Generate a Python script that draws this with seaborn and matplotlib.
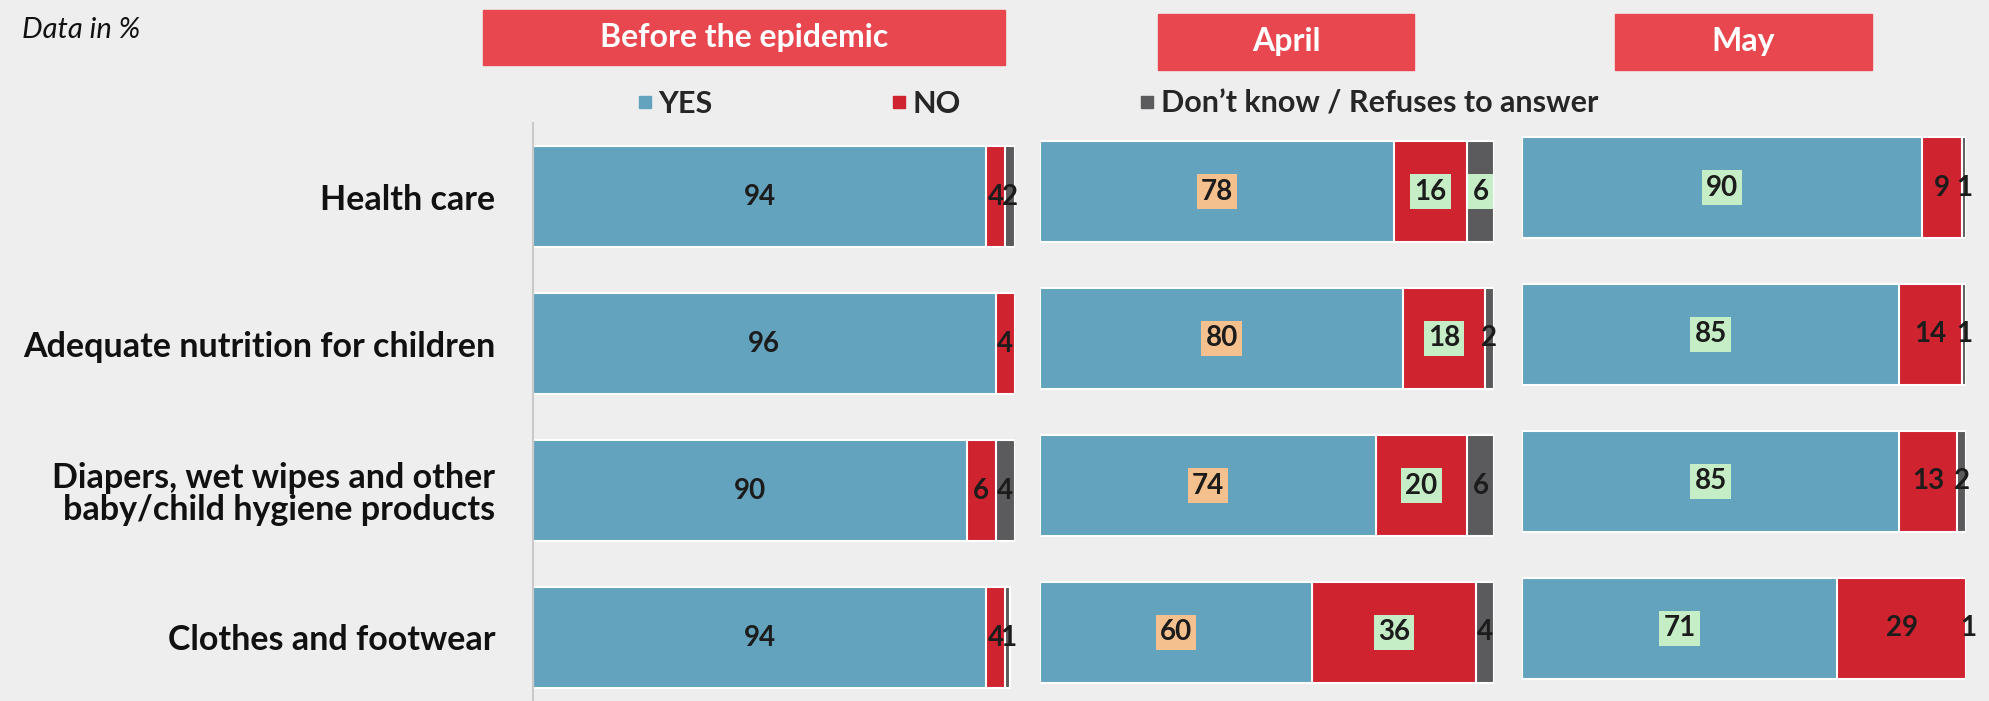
import pandas as pd
import matplotlib.pyplot as plt
import seaborn as sns
from matplotlib.lines import Line2D
from matplotlib.patches import Rectangle

# Data (in %)
categories = ["Health care",
              "Adequate nutrition for children",
              "Diapers, wet wipes and other\nbaby/child hygiene products",
              "Clothes and footwear"]
periods = ["Before the epidemic", "April", "May"]

yes_before = [94, 96, 90, 94]
no_before = [4, 4, 6, 4]
dk_before = [2, 0, 4, 1]

yes_april = [78, 80, 74, 60]
no_april = [16, 18, 20, 36]
dk_april = [6, 2, 6, 4]

yes_may = [90, 85, 85, 71]
no_may = [9, 14, 13, 29]
dk_may = [1, 1, 2, 1]

legend_labels = ["YES", "NO", "Don’t know / Refuses to answer"]

sns.set_theme(style="white")
plt.rcParams['font.family'] = ['Lato', 'DejaVu Sans']

BG = '#eeeeee'
C_YES = '#63a3bd'
C_NO = '#cf232f'
C_DK = '#5b5b5d'
C_HEAD = '#e9474f'
ORANGE = '#f4c08e'
GREEN = '#c6eec6'

W, H = 1989, 701
fig = plt.figure(figsize=(W / 100, H / 100), dpi=100, facecolor=BG)


def px_rect(x0, y0, w, h):
    # pixel box (top-left origin) -> figure fraction
    return [x0 / W, 1 - (y0 + h) / H, w / W, h / H]


panels = [(yes_before, no_before, dk_before),
          (yes_april, no_april, dk_april),
          (yes_may, no_may, dk_may)]
panel_px = [(533, 123, 482), (1040, 118, 454), (1522, 114, 444)]
row_h = 147

# highlighted value boxes
box_color = {(1, 'yes'): ORANGE, (1, 'no'): GREEN, (2, 'yes'): GREEN}
box_single = {(1, 'dk', 0): GREEN}

for p, ((yes, no, dk), (x0, top, width)) in enumerate(zip(panels, panel_px)):
    df = pd.DataFrame({'category': categories, 'yes': yes, 'no': no, 'dk': dk})
    df['yes_no'] = df['yes'] + df['no']
    df['total'] = df['yes_no'] + df['dk']

    ax = fig.add_axes(px_rect(x0, top, width, 4 * row_h))
    ax.set_facecolor('none')

    # stacked bars: draw cumulative totals back to front
    for col, c in [('total', C_DK), ('yes_no', C_NO), ('yes', C_YES)]:
        sns.barplot(data=df, x=col, y='category', orient='h', color=c,
                    saturation=1, width=0.69, edgecolor='white', linewidth=1.5,
                    errorbar=None, ax=ax)

    for i, row in df.iterrows():
        segs = [('yes', 0, row['yes']), ('no', row['yes'], row['no']),
                ('dk', row['yes_no'], row['dk'])]
        for key, start, val in segs:
            if val == 0:
                continue
            fc = box_color.get((p, key), box_single.get((p, key, i)))
            bbox = dict(boxstyle='square,pad=0.15', fc=fc, ec='none') if fc else None
            ax.text(start + val / 2, i, str(val), ha='center', va='center',
                    fontsize=20, fontweight='bold', color='#1c1c1c', bbox=bbox)

    ax.set_xlim(0, 100)
    ax.set_ylim(3.5, -0.5)
    ax.set_xlabel("")
    ax.set_ylabel("")
    ax.set_xticks([])
    for s in ax.spines.values():
        s.set_visible(False)
    if p == 0:
        ax.spines['left'].set_visible(True)
        ax.spines['left'].set_color('#c9c9c9')
        ax.spines['left'].set_linewidth(1.5)
        ax.tick_params(axis='y', length=0, pad=27)
        for lab in ax.get_yticklabels():
            lab.set_fontsize(24.5)
            lab.set_fontweight('bold')
            lab.set_color('#111111')
            lab.set_linespacing(1.0)
    else:
        ax.set_yticks([])

# period headers
header_px = [(483, 10, 522, 55), (1158, 14, 256, 56), (1615, 14, 257, 56)]
for name, (x, y, w, h) in zip(periods, header_px):
    fig.add_artist(Rectangle((x / W, 1 - (y + h) / H), w / W, h / H,
                             transform=fig.transFigure, color=C_HEAD))
    fig.text((x + w / 2) / W, 1 - (y + h / 2) / H, name, color='white',
             fontsize=23, fontweight='bold', ha='center', va='center')

# legend
handles = [Line2D([], [], marker='s', ls='', color=c, markersize=8)
           for c in [C_YES, C_NO, C_DK]]
fig.legend(handles, legend_labels, loc='center', bbox_to_anchor=(1117 / W, 1 - 104 / H),
           ncol=3, frameon=False, prop={'weight': 'bold', 'size': 22},
           columnspacing=5.8, handletextpad=0.15, handlelength=0.6)

fig.text(22 / W, 1 - 30 / H, "Data in %", fontsize=21, fontstyle='italic',
         ha='left', va='center', color='#111111')

fig.savefig('out.png', dpi=100, facecolor=BG)
